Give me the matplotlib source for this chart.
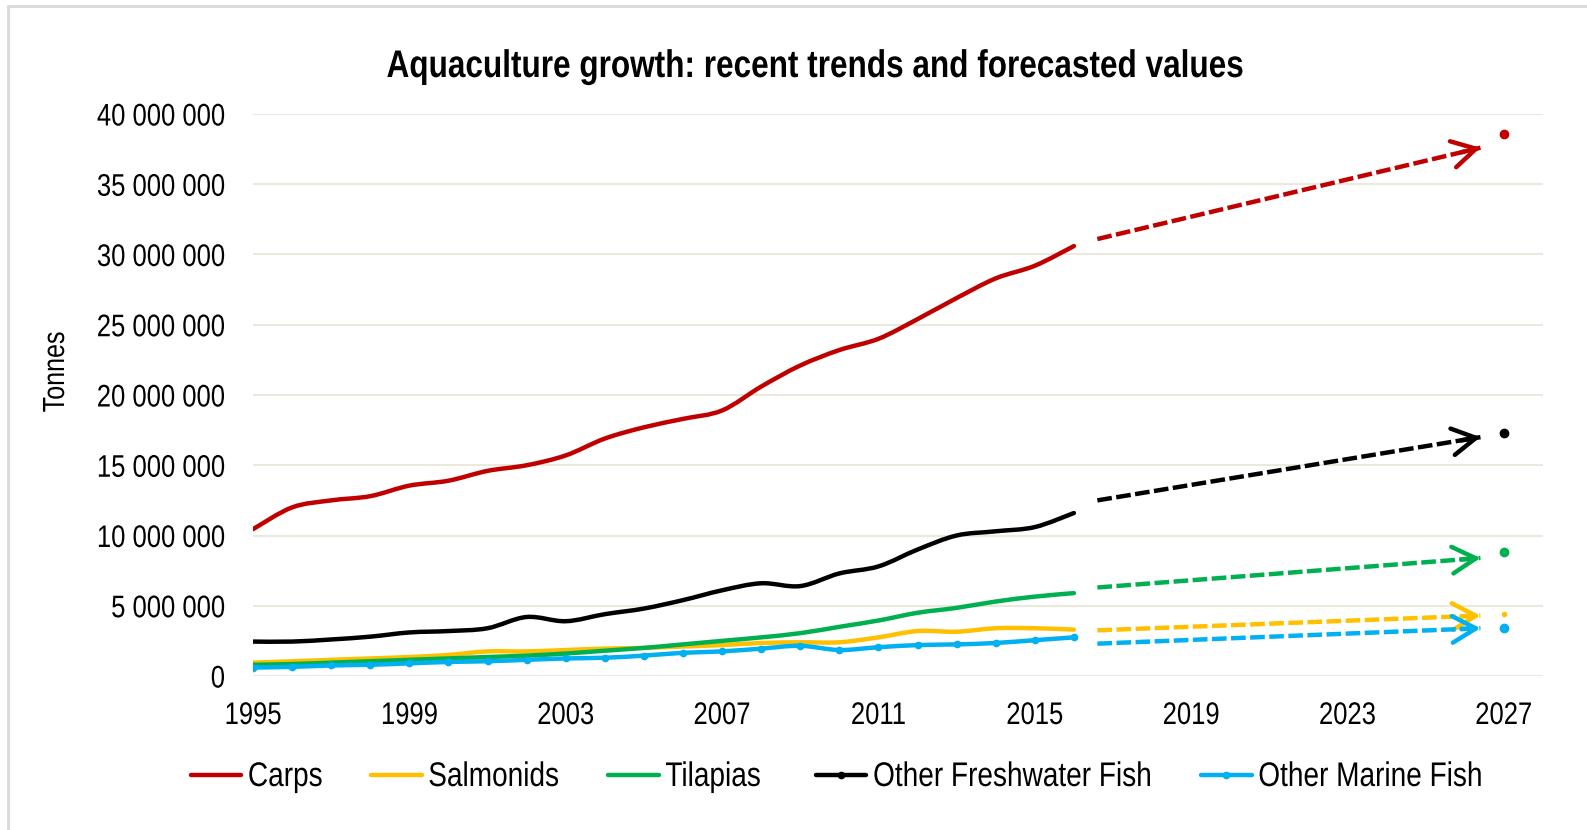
import numpy as np
import matplotlib
matplotlib.use("Agg")
import matplotlib.pyplot as plt
from matplotlib.path import Path
from matplotlib.patches import PathPatch, Rectangle
from matplotlib.lines import Line2D
from matplotlib.transforms import Affine2D
from matplotlib.patheffects import AbstractPathEffect

plt.rcParams['font.family'] = ['Liberation Sans', 'DejaVu Sans']

# ---- data (tonnes) ----
years = list(range(1995, 2017))

carps = [10.45e6, 12.0e6, 12.5e6, 12.8e6, 13.55e6, 13.9e6, 14.6e6, 15.0e6, 15.7e6,
         16.9e6, 17.7e6, 18.3e6, 18.9e6, 20.6e6, 22.1e6, 23.2e6, 24.0e6, 25.4e6,
         26.9e6, 28.3e6, 29.2e6, 30.6e6]
salmonids = [0.95e6, 1.05e6, 1.15e6, 1.25e6, 1.35e6, 1.5e6, 1.75e6, 1.75e6, 1.85e6,
             1.95e6, 2.0e6, 2.1e6, 2.2e6, 2.35e6, 2.4e6, 2.4e6, 2.75e6, 3.2e6,
             3.15e6, 3.4e6, 3.4e6, 3.3e6]
tilapias = [0.8e6, 0.85e6, 0.95e6, 1.05e6, 1.15e6, 1.25e6, 1.35e6, 1.45e6, 1.6e6,
            1.8e6, 2.0e6, 2.25e6, 2.5e6, 2.75e6, 3.05e6, 3.5e6, 3.95e6, 4.5e6,
            4.85e6, 5.3e6, 5.65e6, 5.9e6]
freshwater = [2.45e6, 2.45e6, 2.6e6, 2.8e6, 3.1e6, 3.2e6, 3.4e6, 4.2e6, 3.9e6,
              4.4e6, 4.8e6, 5.4e6, 6.1e6, 6.6e6, 6.4e6, 7.3e6, 7.8e6, 9.0e6,
              10.0e6, 10.3e6, 10.6e6, 11.6e6]
marine = [0.6e6, 0.65e6, 0.75e6, 0.8e6, 0.9e6, 1.0e6, 1.05e6, 1.15e6, 1.25e6,
          1.3e6, 1.45e6, 1.65e6, 1.75e6, 1.95e6, 2.15e6, 1.85e6, 2.05e6, 2.2e6,
          2.25e6, 2.35e6, 2.55e6, 2.75e6]

# forecast trend lines (start, end) and the 2027 projection
forecast_years = [2016.6, 2026.4]
carps_trend = [31.1e6, 37.6e6]
salmonids_trend = [3.25e6, 4.3e6]
tilapias_trend = [6.3e6, 8.4e6]
freshwater_trend = [12.5e6, 17.0e6]
marine_trend = [2.3e6, 3.4e6]

year_2027 = 2027
carps_2027 = 38.6e6
salmonids_2027 = 4.4e6
tilapias_2027 = 8.8e6
freshwater_2027 = 17.3e6
marine_2027 = 3.4e6

names = ["Carps", "Salmonids", "Tilapias", "Other Freshwater Fish", "Other Marine Fish"]
colors = ["#C00000", "#FFC000", "#00B050", "#000000", "#00B0F0"]
history = [carps, salmonids, tilapias, freshwater, marine]
trends = [carps_trend, salmonids_trend, tilapias_trend, freshwater_trend, marine_trend]
proj = [carps_2027, salmonids_2027, tilapias_2027, freshwater_2027, marine_2027]
legend_marker = [False, False, False, True, True]
proj_ms = [6, 3, 6, 6, 6]

x_ticks = [1995, 1999, 2003, 2007, 2011, 2015, 2019, 2023, 2027]
y_ticks = list(range(0, 40_000_001, 5_000_000))
y_labels = [f"{v:,}".replace(",", " ") for v in y_ticks]

NARROW = 0.82  # horizontal squeeze giving a narrow-style typeface


class Squeeze(AbstractPathEffect):
    """Compress glyph outlines horizontally about the text anchor."""

    def __init__(self, sx=NARROW, align="center"):
        super().__init__()
        self.sx = sx
        self.align = align

    def draw_path(self, renderer, gc, tpath, affine, rgbFace=None):
        ext = tpath.get_extents()
        if self.align == "left":
            x0 = 0.0
        elif self.align == "right":
            x0 = ext.x1
        else:
            x0 = 0.5 * (ext.x0 + ext.x1)
        pre = Affine2D().translate(-x0, 0).scale(self.sx, 1.0).translate(x0, 0)
        renderer.draw_path(gc, tpath, pre + affine, rgbFace)


def smooth_path(xs, ys):
    """Catmull-Rom style smoothing expressed as cubic Bezier segments."""
    xs = np.asarray(xs, float)
    ys = np.asarray(ys, float)
    n = len(xs)
    verts = [(xs[0], ys[0])]
    codes = [Path.MOVETO]
    for i in range(n - 1):
        p0 = i - 1 if i > 0 else i
        p3 = i + 2 if i + 2 < n else i + 1
        c1 = (xs[i] + (xs[i + 1] - xs[p0]) / 6.0, ys[i] + (ys[i + 1] - ys[p0]) / 6.0)
        c2 = (xs[i + 1] - (xs[p3] - xs[i]) / 6.0, ys[i + 1] - (ys[p3] - ys[i]) / 6.0)
        verts += [c1, c2, (xs[i + 1], ys[i + 1])]
        codes += [Path.CURVE4] * 3
    return Path(verts, codes)


W, H = 1587, 830
fig = plt.figure(figsize=(W / 100, H / 100), dpi=100)
ax = fig.add_axes([253 / W, 1 - 676 / H, (1543 - 253) / W, (676 - 114) / H])

for vals, trend, p, col, name, pms in zip(history, trends, proj, colors, names, proj_ms):
    patch = PathPatch(smooth_path(years, vals), facecolor="none", edgecolor=col,
                      lw=3.2, capstyle="round", joinstyle="round", zorder=3)
    ax.add_patch(patch)
    if name == "Other Marine Fish":
        ax.plot(years, vals, ls="none", marker="o", ms=4.5, color=col, zorder=4)
    ax.plot(forecast_years, trend, color=col, lw=3.2, ls=(0, (3.3, 1.0)),
            dash_capstyle="butt", zorder=3)
    dx = forecast_years[1] - forecast_years[0]
    dy = trend[1] - trend[0]
    ax.annotate("", xy=(forecast_years[1], trend[1]),
                xytext=(forecast_years[1] - 0.05 * dx, trend[1] - 0.05 * dy),
                arrowprops=dict(arrowstyle="->,head_length=0.85,head_width=0.48",
                                color=col, lw=3.2, mutation_scale=20,
                                capstyle="round", joinstyle="round",
                                shrinkA=0, shrinkB=0), zorder=3)
    ax.plot([year_2027], [p], ls="none", marker="o", ms=pms, color=col, zorder=4)

ax.set_xlim(1995, 2028)
ax.set_ylim(0, 40_000_000)
ax.set_xticks(x_ticks, labels=[str(x) for x in x_ticks])
ax.set_yticks(y_ticks, labels=y_labels)
ax.tick_params(axis="both", length=0, labelsize=22.5)
ax.tick_params(axis="x", pad=18)
ax.tick_params(axis="y", pad=20)
for t in ax.get_xticklabels():
    t.set_path_effects([Squeeze(align="center")])
for t in ax.get_yticklabels():
    t.set_path_effects([Squeeze(align="right")])
ax.grid(axis="y", color="#EBE8DD", lw=1.5)
ax.set_axisbelow(True)
for s in ax.spines.values():
    s.set_visible(False)

fig.text(56 / W, 1 - 372 / H, "Tonnes", rotation=90, ha="center", va="center",
         fontsize=22, path_effects=[Squeeze(align="center")])
fig.text(816 / W, 1 - 77 / H, "Aquaculture growth: recent trends and forecasted values",
         ha="center", va="baseline", fontsize=27.7, fontweight="bold",
         path_effects=[Squeeze(align="center")])

# legend laid out in a single row, centred under the plot
renderer = fig.canvas.get_renderer()
leg_fs = 24.6
leg_lw = 3.2
cap = leg_lw * 100 / 72 / 2          # round cap overhang in pixels
handle_len, text_pad = 55 - 2 * cap, 4.5 + cap
col_gaps = [44, 45, 51, 45]
leg_texts = []
widths = []
for name in names:
    t = fig.text(0, 0, name, fontsize=leg_fs, ha="left", va="baseline",
                 path_effects=[Squeeze(align="left")])
    widths.append(t.get_window_extent(renderer).width * NARROW)
    leg_texts.append(t)
total = sum(handle_len + text_pad + w for w in widths) + sum(col_gaps) + 2 * cap
x = 827.5 - total / 2 + cap
y_line = 775
y_base = 786
for i, (t, w, col, mk) in enumerate(zip(leg_texts, widths, colors, legend_marker)):
    fig.add_artist(Line2D([x / W, (x + handle_len) / W], [1 - y_line / H] * 2,
                          transform=fig.transFigure, color=col, lw=leg_lw,
                          solid_capstyle="round"))
    if mk:
        fig.add_artist(Line2D([(x + handle_len / 2) / W], [1 - y_line / H],
                              transform=fig.transFigure, color=col, marker="o", ms=4.5))
    t.set_position(((x + handle_len + text_pad) / W, 1 - y_base / H))
    if i < len(col_gaps):
        x += handle_len + text_pad + w + col_gaps[i] + 2 * cap

# chart area border
fig.patches.append(Rectangle((8 / W, -0.05), 1.2, 1 - 6 / H + 0.05,
                             transform=fig.transFigure, fill=False,
                             edgecolor="#D9D9D9", lw=2))

fig.savefig("out.png", dpi=100)
